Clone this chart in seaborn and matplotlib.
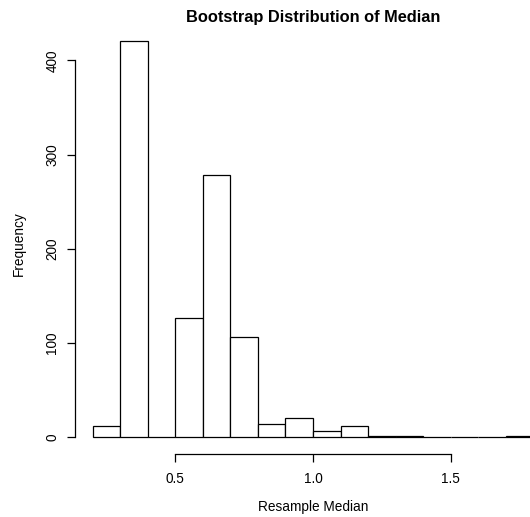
import numpy as np
import matplotlib
matplotlib.use("Agg")
import matplotlib.pyplot as plt
import seaborn as sns

# histogram of bootstrap medians (counts, bin width 0.1)
bin_edges = [0.2, 0.3, 0.4, 0.5, 0.6, 0.7, 0.8, 0.9, 1.0,
             1.1, 1.2, 1.3, 1.4, 1.5, 1.6, 1.7, 1.8]
counts = [12, 421, 0, 127, 278, 106, 14, 21, 7, 12, 1, 1, 0, 0, 0, 1]
x_ticks = [0.5, 1.0, 1.5]
x_tick_labels = ["0.5", "1.0", "1.5"]
y_ticks = [0, 100, 200, 300, 400]
y_tick_labels = ["0", "100", "200", "300", "400"]

bin_mids = [(a + b) / 2 for a, b in zip(bin_edges[:-1], bin_edges[1:])]

sns.set_style("ticks")
plt.rcParams["font.family"] = ["Liberation Sans", "DejaVu Sans"]
plt.rcParams["text.color"] = "black"

W, H = 530, 517
fig = plt.figure(figsize=(W / 100, H / 100), dpi=100)
fig.patch.set_facecolor("white")

# axes placed in pixel terms so the data area lines up with the reference
px_left, px_right = 92.7, 533.3
px_bottom, px_top = 437.3, 437.3 - 430 * 0.9425
ax = fig.add_axes([px_left / W, (H - px_bottom) / H,
                   (px_right - px_left) / W, (px_bottom - px_top) / H])

sns.histplot(x=bin_mids, weights=counts, bins=bin_edges, stat="count",
             color="white", edgecolor="black", linewidth=0.9, alpha=1,
             ax=ax)
for p in ax.patches:
    p.set_clip_on(False)

ax.set_xlim(0.2, 1.8)
ax.set_ylim(0, 430)
ax.set_facecolor("none")

# R style axes: detached lines covering only the tick range
for s in ["top", "right"]:
    ax.spines[s].set_visible(False)
ax.spines["left"].set_position(("outward", 12.7))
ax.spines["bottom"].set_position(("outward", 12.0))
ax.spines["left"].set_bounds(0, 400)
ax.spines["bottom"].set_bounds(0.5, 1.5)
for s in ["left", "bottom"]:
    ax.spines[s].set_linewidth(0.9)
    ax.spines[s].set_color("black")

ax.set_xticks(x_ticks)
ax.set_xticklabels(x_tick_labels)
ax.set_yticks(y_ticks)
ax.set_yticklabels(y_tick_labels, rotation=90, va="center")
ax.tick_params(axis="both", direction="out", length=5.8, width=0.9,
               colors="black", labelsize=9.8)
ax.tick_params(axis="x", pad=7.5)
ax.tick_params(axis="y", pad=5.5)
ax.set_xlabel("")
ax.set_ylabel("")
ax.grid(False)

fig.text(313 / W, 1 - 22 / H, "Bootstrap Distribution of Median",
         ha="center", va="baseline", fontsize=11.8, fontweight="bold",
         color="black")
fig.text(313 / W, 1 - 511.5 / H, "Resample Median",
         ha="center", va="baseline", fontsize=9.8, color="black")
fig.text(18.5 / W, 1 - 244 / H, "Frequency", rotation=90,
         ha="center", va="center", fontsize=9.8, color="black")

fig.savefig("out.png", dpi=100, facecolor="white")
